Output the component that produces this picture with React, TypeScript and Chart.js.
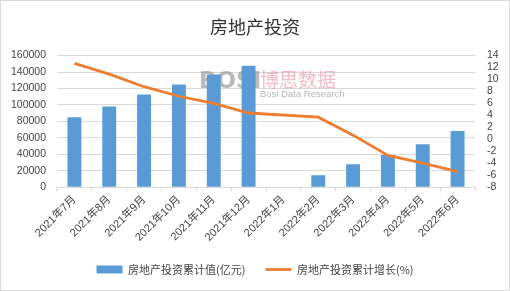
import React, { useEffect, useRef } from "react";
import { Chart, registerables } from "chart.js";

Chart.register(...registerables);

const categories = ["2021年7月", "2021年8月", "2021年9月", "2021年10月", "2021年11月", "2021年12月", "2022年1月", "2022年2月", "2022年3月", "2022年4月", "2022年5月", "2022年6月"];
const investmentValues: (number | null)[] = [84895, 98060, 112559, 124934, 137086, 147602, null, 14499, 27765, 39154, 52134, 68314];
const growthValues: (number | null)[] = [12.7, 10.9, 8.8, 7.2, 6.0, 4.4, null, 3.7, 0.7, -2.7, -4.0, -5.4];
const seriesNames = ["房地产投资累计值(亿元)", "房地产投资累计增长(%)"];
const titleText = "房地产投资";
const watermarkLogo = "BOSI";
const watermarkCn = "博思数据";
const watermarkEn = "Bosi Data Research";

const FONT = "'Liberation Sans', 'Noto Sans CJK SC', sans-serif";

const watermarkPlugin = {
  id: "watermark",
  beforeDatasetsDraw(chart: any) {
    const ctx = chart.ctx;
    ctx.save();
    ctx.textBaseline = "alphabetic";
    ctx.textAlign = "left";
    ctx.fillStyle = "rgba(140,140,140,0.6)";
    ctx.font = "bold 23px 'DejaVu Sans', sans-serif";
    ctx.fillText(watermarkLogo, 198, 87);
    ctx.fillStyle = "rgba(235,120,140,0.5)";
    ctx.font = "19px 'Noto Sans CJK SC', sans-serif";
    ctx.fillText(watermarkCn, 259, 86);
    ctx.fillStyle = "rgba(120,120,120,0.55)";
    ctx.font = "9.5px 'Liberation Sans', sans-serif";
    ctx.fillText(watermarkEn, 259, 96);
    ctx.restore();
  },
};

export default function App() {
  const ref = useRef<HTMLCanvasElement | null>(null);
  useEffect(() => {
    document.body.style.margin = "0";
    if (!ref.current) return;
    const chart = new Chart(ref.current, {
      data: {
        labels: categories,
        datasets: [
          {
            type: "line",
            label: seriesNames[1],
            data: growthValues,
            borderColor: "#ED7D31",
            backgroundColor: "#ED7D31",
            borderWidth: 2.8,
            pointRadius: 0,
            pointStyle: "line",
            spanGaps: true,
            yAxisID: "y1",
            order: 0,
          },
          {
            type: "bar",
            label: seriesNames[0],
            data: investmentValues,
            backgroundColor: "#5B9BD5",
            borderWidth: 0,
            pointStyle: "rect",
            categoryPercentage: 1,
            barPercentage: 0.4,
            yAxisID: "y",
            order: 1,
          },
        ],
      } as any,
      plugins: [watermarkPlugin],
      options: {
        animation: false,
        responsive: true,
        maintainAspectRatio: false,
        layout: { padding: { left: 8, right: 8, top: 4, bottom: 5 } },
        plugins: {
          title: {
            display: true,
            text: titleText,
            color: "#333",
            font: { family: "'Noto Sans CJK SC', sans-serif", size: 18, weight: "normal" },
            padding: { top: 11, bottom: 18 },
          },
          legend: {
            position: "bottom",
            reverse: true,
            labels: {
              usePointStyle: true,
              pointStyleWidth: 26,
              boxHeight: 8,
              color: "#444",
              padding: 20,
              font: { family: "'Noto Sans CJK SC', sans-serif", size: 11 },
            },
          },
          tooltip: { enabled: false },
        },
        scales: {
          x: {
            offset: true,
            afterFit: (s: any) => { s.paddingLeft = 0; s.paddingRight = 0; s.height = s.height - 2; },
            grid: { offset: true, display: true, drawOnChartArea: false, tickLength: 4, color: "#d9d9d9" },
            border: { display: true, color: "#d9d9d9" },
            ticks: {
              maxRotation: 45,
              minRotation: 45,
              autoSkip: false,
              color: "#444",
              padding: 2,
              font: { family: FONT, size: 11 },
            },
          },
          y: {
            position: "left",
            min: 0,
            max: 160000,
            afterFit: (s: any) => { s.width = 48; },
            ticks: {
              stepSize: 20000,
              autoSkip: false,
              color: "#444",
              padding: 11,
              font: { family: FONT, size: 10.5 },
              callback: (v: any) => String(v),
            },
            grid: { color: "#d9d9d9", drawTicks: false },
            border: { display: false },
          },
          y1: {
            position: "right",
            min: -8,
            max: 14,
            afterFit: (s: any) => { s.width = 26; },
            ticks: {
              stepSize: 2,
              autoSkip: false,
              color: "#444",
              padding: 12,
              font: { family: FONT, size: 10.5 },
              callback: (v: any) => String(v),
            },
            grid: { display: false, drawTicks: false },
            border: { display: false },
          },
        },
      } as any,
    });
    return () => chart.destroy();
  }, []);
  return (
    <div style={{ width: 510, height: 291, boxSizing: "border-box", border: "1px solid #d9d9d9", background: "#fff" }}>
      <canvas ref={ref} />
    </div>
  );
}
